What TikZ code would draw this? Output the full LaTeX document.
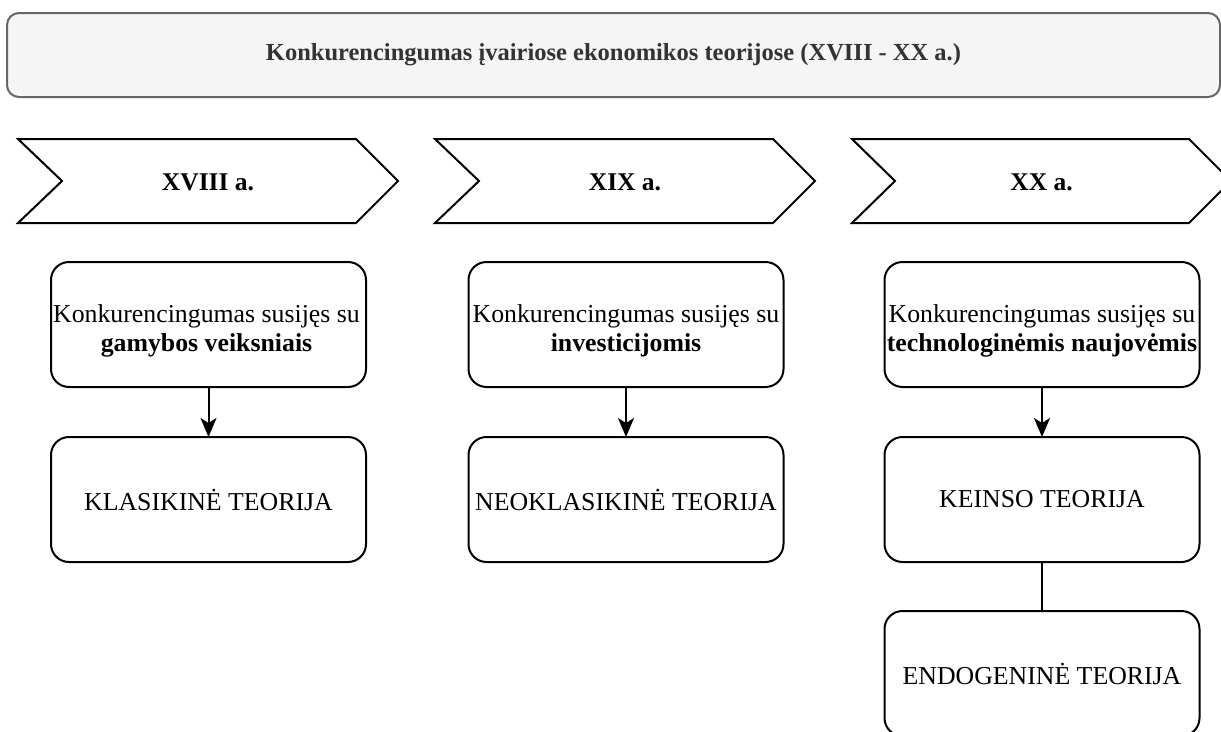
\documentclass[tikz,border=0pt]{standalone}
\usepackage{fontspec}
\setmainfont{Liberation Serif}
\usetikzlibrary{arrows.meta}
\definecolor{titlefill}{HTML}{F5F5F5}
\definecolor{titledraw}{HTML}{666666}
\definecolor{titletext}{HTML}{333333}
\tikzset{
  titlebox/.style={draw=titledraw, fill=titlefill, line width=2pt, rounded corners=12pt,
    minimum width=1213pt, minimum height=84pt, inner sep=0pt, outer sep=0pt,
    text=titletext, font=\fontsize{24.5}{29}\selectfont\bfseries},
  chevtext/.style={inner sep=0pt, font=\fontsize{25.5}{30}\selectfont\bfseries},
  chev/.style={draw=black, fill=white, line width=2pt, line join=miter},
  tbox/.style={draw=black, fill=white, line width=2pt, rounded corners=18pt,
    minimum width=315pt, minimum height=125pt, inner sep=0pt, outer sep=0pt,
    align=center, font=\fontsize{25.8}{28.5}\selectfont},
  btext/.style={inner sep=0pt, align=center, font=\fontsize{25.8}{28.5}\selectfont},
  conn/.style={draw=black, line width=2pt},
  arr/.style={conn, -{Stealth[length=19pt, width=16pt, inset=5pt]}}
}
\begin{document}
\begin{tikzpicture}[x=1pt, y=-1pt]
\useasboundingbox (0,0) rectangle (1221,731);
\fill[white] (0,0) rectangle (1221,731);

% title
\node[titlebox] (title) at (613.5,55) {Konkurencingumas įvairiose ekonomikos teorijose (XVIII - XX a.)};

% chevrons
\draw[chev] (18,139) -- (356,139) -- (398,181) -- (356,223) -- (18,223) -- (62,181) -- cycle;
\node[chevtext] (c1) at (208,182) {XVIII a.};
\draw[chev] (435,139) -- (773,139) -- (815,181) -- (773,223) -- (435,223) -- (479,181) -- cycle;
\node[chevtext] (c2) at (625,182) {XIX a.};
\draw[chev] (852,139) -- (1189,139) -- (1231,181) -- (1189,223) -- (852,223) -- (895,181) -- cycle;
\node[chevtext] (c3) at (1041.5,182) {XX a.};

% column 1
\node[tbox] (a1) at (208.5,324.5) {};
\node[btext] (a1t) at (206.5,331) {Konkurencingumas susijęs su\\\textbf{gamybos veiksniais}};
\node[tbox] (b1) at (208.5,499.5) {KLASIKINĖ TEORIJA};
% column 2
\node[tbox] (a2) at (626,324.5) {};
\node[btext] (a2t) at (626,331) {Konkurencingumas susijęs su\\\textbf{investicijomis}};
\node[tbox] (b2) at (626,499.5) {NEOKLASIKINĖ TEORIJA};
% column 3
\node[tbox] (a3) at (1042,324.5) {};
\node[btext] (a3t) at (1042,331) {Konkurencingumas susijęs su\\\textbf{technologinėmis naujovėmis}};
\node[tbox] (b3) at (1042,499.5) {KEINSO TEORIJA};
\node[tbox] (d3) at (1042,673.5) {ENDOGENINĖ TEORIJA};

% connectors
\draw[arr] (a1.south) -- (b1.north);
\draw[arr] (a2.south) -- (b2.north);
\draw[arr] (a3.south) -- (b3.north);
\draw[conn] (b3.south) -- (d3.north);
\end{tikzpicture}
\end{document}
